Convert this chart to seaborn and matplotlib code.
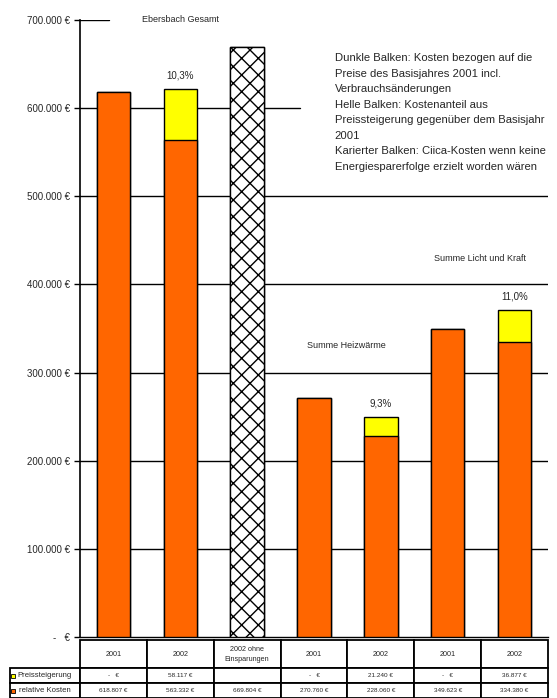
import numpy as np
import pandas as pd
import seaborn as sns
import matplotlib.pyplot as plt
from matplotlib.patches import Rectangle

# -------------- DONNEES -------------------#
spalten = ["2001", "2002", "2002 ohne\nEinsparungen", "2001", "2002", "2001", "2002"]
relative_kosten = [618807, 563332, 669804, 270760, 228060, 349623, 334380]
preissteigerung = [0, 58117, np.nan, 0, 21240, 0, 36877]
y_ticks = [0, 100000, 200000, 300000, 400000, 500000, 600000, 700000]

ORANGE = "#FF6600"
GELB = "#FFFF00"

def euro(v):
    if v == 0:
        return "-   €"
    return f"{v:,.0f} €".replace(",", ".")

sns.set_style("white")
plt.rcParams["font.family"] = ["Liberation Sans", "DejaVu Sans"]
plt.rcParams["hatch.linewidth"] = 1.0

fig = plt.figure(figsize=(5.57, 6.98), dpi=100)
ax = fig.add_axes([80 / 557, 61 / 698, 468 / 557, 617 / 698])

ids = [str(i) for i in range(len(spalten))]
gesamt = [b + (p if not np.isnan(p) else 0) for b, p in zip(relative_kosten, preissteigerung)]
df = pd.DataFrame({"id": ids, "gesamt": gesamt, "basis": relative_kosten})

# grille (certaines lignes cachées par les zones de texte)
for v in y_ticks[1:]:
    xmax = 1.0
    if v == 700000:
        xmax = 29 / 468
    elif v == 600000:
        xmax = 220 / 468
    ax.axhline(v, xmin=0, xmax=xmax, color="black", lw=1.0, zorder=0)

sns.barplot(data=df, x="id", y="gesamt", color=GELB, width=0.5, edgecolor="black",
            linewidth=1.0, saturation=1, ax=ax, zorder=2)
sns.barplot(data=df, x="id", y="basis", color=ORANGE, width=0.5, edgecolor="black",
            linewidth=1.0, saturation=1, ax=ax, zorder=3)

# barre hachurée (sans économies)
for p in ax.patches:
    if abs(p.get_x() + p.get_width() / 2 - 2) < 0.01:
        p.set_facecolor("white")
        p.set_hatch("xx")

ax.set_xlim(-0.5, len(spalten) - 0.5)
ax.set_ylim(0, 700000)
ax.set_yticks(y_ticks)
ax.set_yticklabels([euro(v) for v in y_ticks], fontsize=7)
ax.tick_params(axis="y", direction="out", length=4, width=1, color="black", left=True, pad=3)
ax.set_xticks([])
ax.set_xlabel("")
ax.set_ylabel("")
for s in ["top", "right"]:
    ax.spines[s].set_visible(False)
ax.spines["left"].set_color("black")
ax.spines["left"].set_linewidth(1.2)
ax.spines["bottom"].set_color("black")
ax.spines["bottom"].set_linewidth(1.0)

# pourcentages
for i, (b, p) in enumerate(zip(relative_kosten, preissteigerung)):
    if not np.isnan(p) and p > 0:
        ax.annotate(f"{p / b * 100:.1f}%".replace(".", ","), xy=(i, b + p), xytext=(0, 6),
                    textcoords="offset points", ha="center", va="bottom", fontsize=7)

ax.text(1.0, 700000, "Ebersbach Gesamt", ha="center", va="center", fontsize=6.5)
ax.text(5.48, 429000, "Summe Licht und Kraft", ha="center", va="center", fontsize=6.5)
ax.text(3.48, 331000, "Summe Heizwärme", ha="center", va="center", fontsize=6.5)
ax.text(3.31, 662000,
        "Dunkle Balken: Kosten bezogen auf die\nPreise des Basisjahres 2001 incl.\n"
        "Verbrauchsänderungen\nHelle Balken: Kostenanteil aus\n"
        "Preissteigerung gegenüber dem Basisjahr\n2001\n"
        "Karierter Balken: Ciica-Kosten wenn keine\nEnergiesparerfolge erzielt worden wären",
        ha="left", va="top", fontsize=8.1, linespacing=1.68)

# -------------- TABLEAU -------------------#
zeile_preis = [euro(v) if not np.isnan(v) else "" for v in preissteigerung]
zeile_kosten = [euro(v) for v in relative_kosten]
n = len(spalten)
zeilen = [[""] + spalten,
          ["Preissteigerung"] + zeile_preis,
          ["relative Kosten"] + zeile_kosten]
breiten = [70] + [468 / n] * n
tab = ax.table(cellText=zeilen, colWidths=[b / sum(breiten) for b in breiten],
               cellLoc="center", loc="bottom",
               bbox=[-70 / 468, -61 / 617, 538 / 468, 58 / 617])
tab.auto_set_font_size(False)
for (r, c), cell in tab.get_celld().items():
    cell.set_edgecolor("black")
    cell.set_linewidth(1.3)
    cell.get_text().set_fontsize(4.6)
    if r == 0:
        cell.set_height(cell.get_height() * 1.9)
        cell.get_text().set_fontsize(5.2)
        cell.get_text().set_linespacing(1.6)
    if c == 0:
        cell._loc = "left"
        cell.PAD = 0.14
        cell.get_text().set_fontsize(5.6)
    if r == 0 and c == 0:
        cell.visible_edges = ""

fig.add_artist(Rectangle((11 / 557, (698 - 678) / 698), 4 / 557, 4 / 698,
                         facecolor=GELB, edgecolor="black", lw=0.6))
fig.add_artist(Rectangle((11 / 557, (698 - 693) / 698), 4 / 557, 4 / 698,
                         facecolor=ORANGE, edgecolor="black", lw=0.6))

plt.savefig("out.png", dpi=100)
plt.close()
